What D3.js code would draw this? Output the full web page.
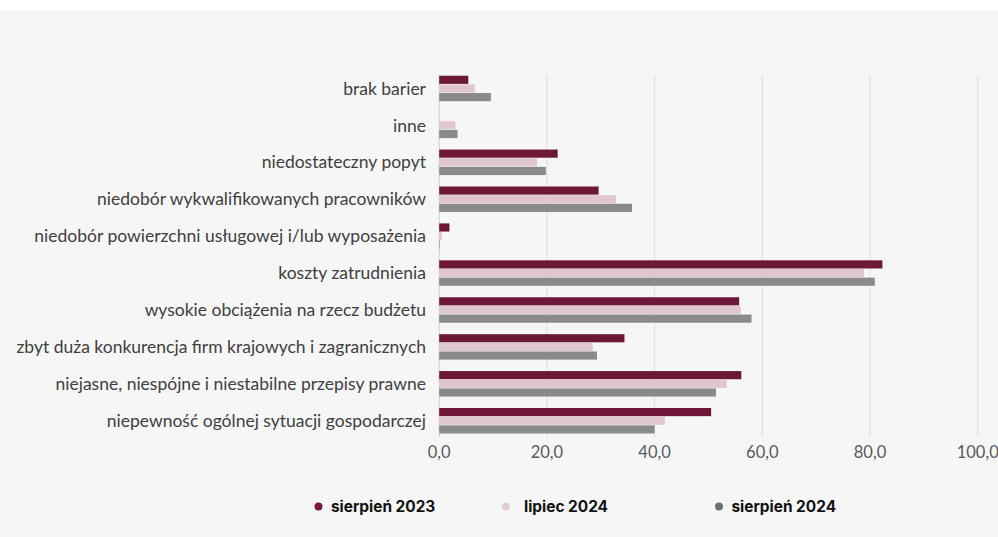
<!DOCTYPE html>
<html>
<head>
<meta charset="utf-8">
<script src="https://cdn.jsdelivr.net/npm/d3@7/dist/d3.min.js"></script>
<style>
  html, body { margin: 0; padding: 0; background: #ffffff; }
  svg { display: block; }
</style>
</head>
<body>
<svg id="chart" width="998" height="537"></svg>
<script>
const categories = [
  "brak barier",
  "inne",
  "niedostateczny popyt",
  "niedobór wykwalifikowanych pracowników",
  "niedobór powierzchni usługowej i/lub wyposażenia",
  "koszty zatrudnienia",
  "wysokie obciążenia na rzecz budżetu",
  "zbyt duża konkurencja firm krajowych i zagranicznych",
  "niejasne, niespójne i niestabilne przepisy prawne",
  "niepewność ogólnej sytuacji gospodarczej"
];
const seriesNames = ["sierpień 2023", "lipiec 2024", "sierpień 2024"];
const sierpien2023 = [5.4, 0.0, 22.0, 29.6, 1.9, 82.3, 55.7, 34.4, 56.1, 50.5];
const lipiec2024   = [6.6, 3.0, 18.2, 32.8, 0.5, 78.9, 56.0, 28.5, 53.4, 41.9];
const sierpien2024 = [9.6, 3.4, 19.8, 35.8, 0.1, 80.9, 58.0, 29.3, 51.4, 40.0];
const xTicks = [0, 20, 40, 60, 80, 100];
const colors = ["#6d1839", "#dfc6cf", "#8a8a8a"];
const legendDots = ["#7a1a40", "#e3cbd3", "#6e6e6e"];

const seriesValues = [sierpien2023, lipiec2024, sierpien2024];
const svg = d3.select("#chart");

svg.append("rect").attr("x", 0).attr("y", 10).attr("width", 998).attr("height", 527).attr("fill", "#f6f6f6");

const x = d3.scaleLinear().domain([0, 100]).range([439.2, 977.7]);
const y = d3.scaleBand().domain(categories).range([70, 439.2]).paddingInner(0.31).paddingOuter(0.155);
const yInner = d3.scaleBand().domain(seriesNames).range([0, y.bandwidth()]).paddingInner(0.06);

svg.append("g").selectAll("line").data(xTicks).join("line")
  .attr("x1", d => x(d)).attr("x2", d => x(d))
  .attr("y1", 75).attr("y2", 437)
  .attr("stroke", d => d === 0 ? "#cfcfcf" : "#dcdcdc").attr("stroke-width", 1);

const groups = svg.append("g").selectAll("g").data(categories).join("g")
  .attr("transform", d => `translate(0,${y(d)})`);
groups.selectAll("rect").data((c, i) => seriesNames.map((s, j) => ({ s, v: seriesValues[j][i], j })))
  .join("rect")
  .attr("x", x(0))
  .attr("y", d => yInner(d.s))
  .attr("width", d => Math.max(0, x(d.v) - x(0)))
  .attr("height", yInner.bandwidth())
  .attr("fill", d => colors[d.j]);

svg.append("g").selectAll("text").data(categories).join("text")
  .attr("x", 426)
  .attr("y", d => y(d) + y.bandwidth() / 2)
  .attr("dy", "0.35em")
  .attr("text-anchor", "end")
  .attr("font-family", "Lato, sans-serif")
  .attr("font-size", 17.5)
  .attr("fill", "#404040")
  .text(d => d);

const fmt = d => d.toFixed(1).replace(".", ",");
svg.append("g").selectAll("text").data(xTicks).join("text")
  .attr("x", d => x(d))
  .attr("y", 457.5)
  .attr("text-anchor", "middle")
  .attr("font-family", "Lato, sans-serif")
  .attr("font-size", 16.5)
  .attr("fill", "#5a5a5a")
  .text(fmt);

const legendX = [318.5, 506, 719];
const lg = svg.append("g").selectAll("g").data(seriesNames).join("g")
  .attr("transform", (d, i) => `translate(${legendX[i]},506.5)`);
lg.append("circle").attr("r", 4).attr("fill", (d, i) => legendDots[i]);
lg.append("text")
  .attr("x", (d, i) => i === 1 ? 18 : 12.5)
  .attr("dy", "0.35em")
  .attr("font-family", "Inter, sans-serif")
  .attr("font-weight", 700)
  .attr("font-size", 15.4)
  .attr("fill", "#111111")
  .text(d => d);
</script>
</body>
</html>
